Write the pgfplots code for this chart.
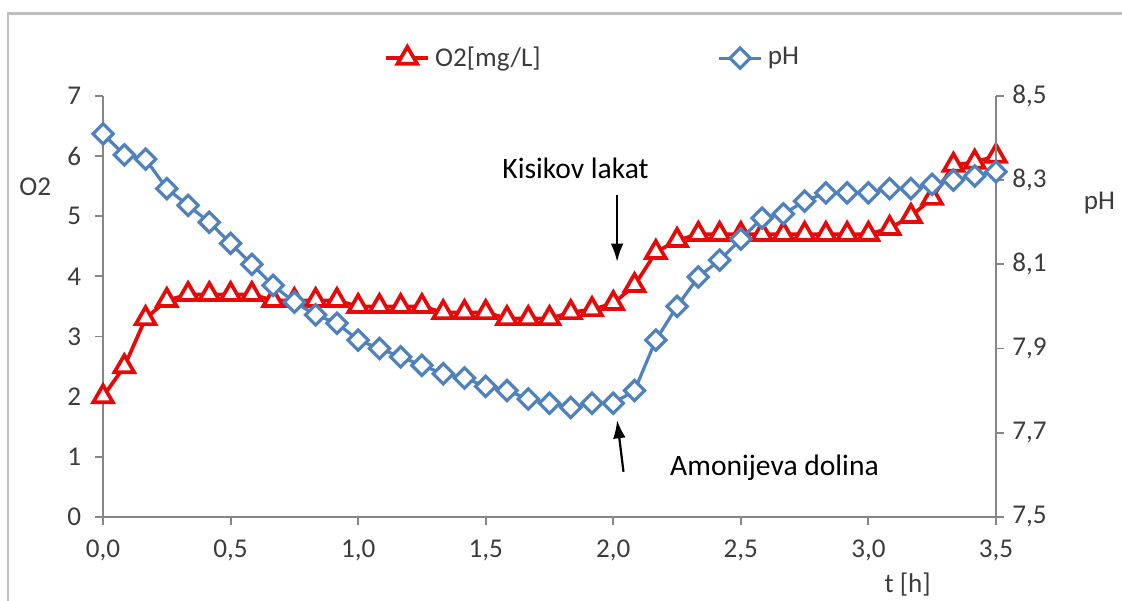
\documentclass[border=0pt]{standalone}
\usepackage{pgfplots}
\pgfplotsset{compat=1.18}
\usepackage{pgfplotstable}
\usepackage{fontspec}
\setmainfont{Carlito}
\usetikzlibrary{arrows.meta,calc}

\definecolor{o2red}{RGB}{232,8,8}
\definecolor{phblue}{RGB}{79,129,189}
\definecolor{axgray}{RGB}{134,134,134}
\definecolor{txtgray}{RGB}{60,60,60}

% t [h], O2 [mg/L], pH
\pgfplotstableread{
t      O2   pH
0.0000 2.0  8.41
0.0833 2.5  8.36
0.1667 3.3  8.35
0.2500 3.6  8.28
0.3333 3.7  8.24
0.4167 3.7  8.20
0.5000 3.7  8.15
0.5833 3.7  8.10
0.6667 3.6  8.05
0.7500 3.6  8.01
0.8333 3.6  7.98
0.9167 3.6  7.96
1.0000 3.5  7.92
1.0833 3.5  7.90
1.1667 3.5  7.88
1.2500 3.5  7.86
1.3333 3.4  7.84
1.4167 3.4  7.83
1.5000 3.4  7.81
1.5833 3.3  7.80
1.6667 3.3  7.78
1.7500 3.3  7.77
1.8333 3.4  7.76
1.9167 3.45 7.77
2.0000 3.55 7.77
2.0833 3.85 7.80
2.1667 4.4  7.92
2.2500 4.6  8.00
2.3333 4.7  8.07
2.4167 4.7  8.11
2.5000 4.7  8.16
2.5833 4.7  8.21
2.6667 4.7  8.22
2.7500 4.7  8.25
2.8333 4.7  8.27
2.9167 4.7  8.27
3.0000 4.7  8.27
3.0833 4.8  8.28
3.1667 5.0  8.28
3.2500 5.3  8.29
3.3333 5.85 8.30
3.4167 5.9  8.31
3.5000 6.0  8.32
}\data

\pgfplotsset{
  base/.style={
    scale only axis, width=12.73cm, height=6.0cm,
    xmin=0, xmax=3.5, clip=false,
    axis line style={axgray, line width=0.8pt},
    tick style={axgray, line width=0.8pt},
    tick align=outside, major tick length=0.11cm,
    ticklabel style={font=\fontsize{11}{13}\selectfont, text=txtgray},
    /pgf/number format/assume math mode=true,
  },
}

\begin{document}
\begin{tikzpicture}
\begin{axis}[base,
  axis x line*=bottom, axis y line*=left,
  ymin=0, ymax=7, ytick={0,1,...,7},
  xtick={0,0.5,...,3.5},
  xticklabel style={yshift=-0.1cm, /pgf/number format/.cd, fixed, fixed zerofill, precision=1, use comma},
  yticklabel style={xshift=-0.08cm},
  legend style={at={(rel axis cs:0.55,1.09)}, anchor=center, draw=none,
    font=\fontsize{11}{13}\selectfont, text=txtgray,
    /tikz/every even column/.append style={column sep=2.45cm}},
  legend columns=2,
]
\coordinate (ll) at (rel axis cs:0,0);
\coordinate (ur) at (rel axis cs:1,1);
\addplot[o2red, line width=1.5pt, mark=triangle*, mark size=4.6pt,
  mark options={fill=white, line width=1.5pt}] table[x=t, y=O2] {\data};
\addlegendentry{O2[mg/L]}
\addlegendimage{phblue, line width=1.3pt, mark=square*, mark size=2.9pt,
  mark options={rotate=45, fill=white, line width=1.3pt}}
\addlegendentry{pH}

\node[text=txtgray, font=\fontsize{11}{13}\selectfont] at (axis cs:-0.266,5.49) {O2};
\node[text=txtgray, font=\fontsize{11}{13}\selectfont] at (axis cs:3.906,5.22) {pH};
\node[text=txtgray, font=\fontsize{11}{13}\selectfont] at (axis cs:3.154,-1.13) {t [h]};

\node[font=\fontsize{12}{14}\selectfont] at (axis cs:1.852,5.8) {Kisikov lakat};
\draw[-{Latex[length=2.6mm,width=1.8mm]}, line width=0.9pt] (axis cs:2.015,5.36) -- (axis cs:2.015,4.24);
\node[font=\fontsize{12}{14}\selectfont] at (axis cs:2.632,0.81) {Amonijeva dolina};
\draw[-{Latex[length=2.6mm,width=1.8mm]}, line width=0.9pt] (axis cs:2.04,0.75) -- (axis cs:2.015,1.61);
\end{axis}

\begin{axis}[base,
  axis x line=none, axis y line*=right,
  ymin=7.5, ymax=8.5, ytick={7.5,7.7,7.9,8.1,8.3,8.5},
  yticklabel style={/pgf/number format/.cd, fixed, fixed zerofill, precision=1, use comma},
]
\addplot[phblue, line width=1.3pt, mark=square*, mark size=2.9pt,
  mark options={rotate=45, fill=white, line width=1.3pt}] table[x=t, y=pH] {\data};
\end{axis}

\draw[black!25, line width=1.2pt] ($(ll)+(-1.355cm,-1.4cm)$) |- ($(ur)+(2.0cm,1.18cm)$);
\pgfresetboundingbox
\path ($(ll)+(-1.469cm,-1.198cm)$) rectangle ($(ur)+(1.797cm,1.369cm)$);
\end{tikzpicture}
\end{document}
